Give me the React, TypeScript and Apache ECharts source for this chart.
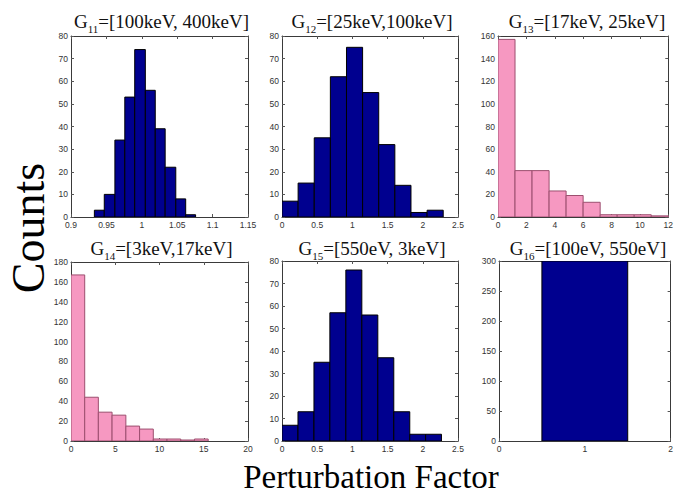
import React, { useEffect, useRef } from "react";
import * as echarts from "echarts";

// Bin edges (left..right) and counts for each panel
const g11Edges = [0.933, 0.947, 0.962, 0.976, 0.990, 1.005, 1.019, 1.033, 1.048, 1.062, 1.076];
const g11Counts = [3, 10, 34, 53, 74, 56, 39, 22, 8, 1];

const g12Edges = [0, 0.229, 0.458, 0.687, 0.916, 1.145, 1.374, 1.603, 1.832, 2.061, 2.29];
const g12Counts = [7, 15, 35, 62, 75, 55, 32, 14, 2, 3];

const g13Edges = [0, 1.2, 2.4, 3.6, 4.8, 6.0, 7.2, 8.4, 9.6, 10.8, 12.0];
const g13Counts = [157, 41, 41, 23, 19, 13, 2, 2, 2, 1];

const g14Edges = [0, 1.55, 3.09, 4.64, 6.2, 7.75, 9.3, 10.85, 12.4, 13.95, 15.5];
const g14Counts = [167, 44, 29, 26, 15, 12, 2, 2, 1, 2];

const g15Edges = [0, 0.227, 0.454, 0.68, 0.907, 1.134, 1.361, 1.588, 1.815, 2.04, 2.265];
const g15Counts = [7, 13, 35, 57, 76, 56, 37, 13, 3, 3];

const g16Edges = [0.5, 1.5];
const g16Counts = [300];

const titleSubs = ["11", "12", "13", "14", "15", "16"];
const titleRanges = [
  "=[100keV, 400keV]",
  "=[25keV,100keV]",
  "=[17keV, 25keV]",
  "=[3keV,17keV]",
  "=[550eV, 3keV]",
  "=[100eV, 550eV]",
];

const xMins = [0.9, 0, 0, 0, 0, 0];
const xMaxs = [1.15, 2.5, 12, 20, 2.5, 2];
const xSteps = [0.05, 0.5, 2, 5, 0.5, 1];
const yMaxs = [80, 80, 160, 180, 80, 300];
const ySteps = [10, 10, 20, 20, 10, 50];

const NAVY = "#00008f";
const PINK = "#f698c1";

const panels = [
  { edges: g11Edges, counts: g11Counts, fill: NAVY, stroke: "#000000" },
  { edges: g12Edges, counts: g12Counts, fill: NAVY, stroke: "#000000" },
  { edges: g13Edges, counts: g13Counts, fill: PINK, stroke: "#9c4f6f" },
  { edges: g14Edges, counts: g14Counts, fill: PINK, stroke: "#9c4f6f" },
  { edges: g15Edges, counts: g15Counts, fill: NAVY, stroke: "#000000" },
  { edges: g16Edges, counts: g16Counts, fill: NAVY, stroke: "#000000" },
];

const grids = [
  { left: 71, top: 36, width: 177, height: 181 },
  { left: 282, top: 36, width: 176, height: 181 },
  { left: 498, top: 36, width: 174, height: 181 },
  { left: 71, top: 262, width: 177, height: 179 },
  { left: 282, top: 261, width: 176, height: 180 },
  { left: 499, top: 261, width: 174, height: 180 },
];

const SERIF = "Liberation Serif";
const SANS = "Liberation Sans";

export default function App() {
  const ref = useRef<HTMLDivElement>(null);

  useEffect(() => {
    document.body.style.margin = "0";
    if (!ref.current) return;
    const chart = echarts.init(ref.current, null, { renderer: "svg" });

    const axisLine = { show: true, onZero: false, lineStyle: { color: "#3a3a3a", width: 1 } };
    const axisTick = { show: true, inside: true, length: 3, lineStyle: { color: "#555" } };
    const labelStyle = { fontSize: 8.5, fontFamily: SANS, color: "#333" };

    const xAxis: any[] = [];
    const yAxis: any[] = [];
    const series: any[] = [];
    const titles: any[] = [];

    panels.forEach((p, i) => {
      const common = { gridIndex: i, type: "value", min: xMins[i], max: xMaxs[i], interval: xSteps[i], splitLine: { show: false }, axisLine, axisTick };
      xAxis.push({ ...common, position: "bottom", axisLabel: { ...labelStyle, margin: 3 } });
      xAxis.push({ ...common, position: "top", axisLabel: { show: false } });
      const ycommon = { gridIndex: i, type: "value", min: 0, max: yMaxs[i], interval: ySteps[i], splitLine: { show: false }, axisLine, axisTick };
      yAxis.push({ ...ycommon, position: "left", axisLabel: { ...labelStyle, margin: 3 } });
      yAxis.push({ ...ycommon, position: "right", axisLabel: { show: false } });

      const data = p.counts.map((c, k) => [p.edges[k], p.edges[k + 1], c]);
      series.push({
        type: "custom",
        xAxisIndex: 2 * i,
        yAxisIndex: 2 * i,
        clip: true,
        data,
        encode: { x: [0, 1], y: 2 },
        renderItem: (params: any, api: any) => {
          const a = api.coord([api.value(0), api.value(2)]);
          const b = api.coord([api.value(1), 0]);
          return {
            type: "rect",
            shape: { x: a[0], y: a[1], width: b[0] - a[0], height: b[1] - a[1] },
            style: { fill: p.fill, stroke: p.stroke, lineWidth: 1 },
          };
        },
      });

      const g = grids[i];
      titles.push({
        text: `{g|G}{s|${titleSubs[i]}}{g|${titleRanges[i]}}`,
        left: g.left + g.width / 2 - 3,
        textAlign: "center",
        top: i < 3 ? 5 : 232,
        textStyle: {
          fontFamily: SERIF,
          fontWeight: "normal",
          fontSize: 19,
          color: "#111",
          rich: {
            g: { fontFamily: SERIF, fontWeight: "normal", fontSize: 19, color: "#111", lineHeight: 21, verticalAlign: "bottom" },
            s: { fontFamily: SERIF, fontWeight: "normal", fontSize: 11, color: "#111", lineHeight: 11, verticalAlign: "bottom", padding: [0, 0, -3, 0] },
          },
        },
      });
    });

    chart.setOption({
      animation: false,
      backgroundColor: "#ffffff",
      title: titles,
      grid: grids.map((g) => ({ ...g, containLabel: false })),
      xAxis,
      yAxis,
      series,
      graphic: [
        {
          type: "text",
          x: 28,
          y: 228,
          rotation: Math.PI / 2,
          style: { text: "Counts", font: `46px ${SERIF}`, fill: "#000", textAlign: "center", textVerticalAlign: "middle" },
        },
        {
          type: "text",
          x: 371,
          y: 477,
          style: { text: "Perturbation Factor", font: `33px ${SERIF}`, fill: "#000", textAlign: "center", textVerticalAlign: "middle" },
        },
      ],
    });

    return () => chart.dispose();
  }, []);

  return <div ref={ref} style={{ width: 676, height: 496 }} />;
}
